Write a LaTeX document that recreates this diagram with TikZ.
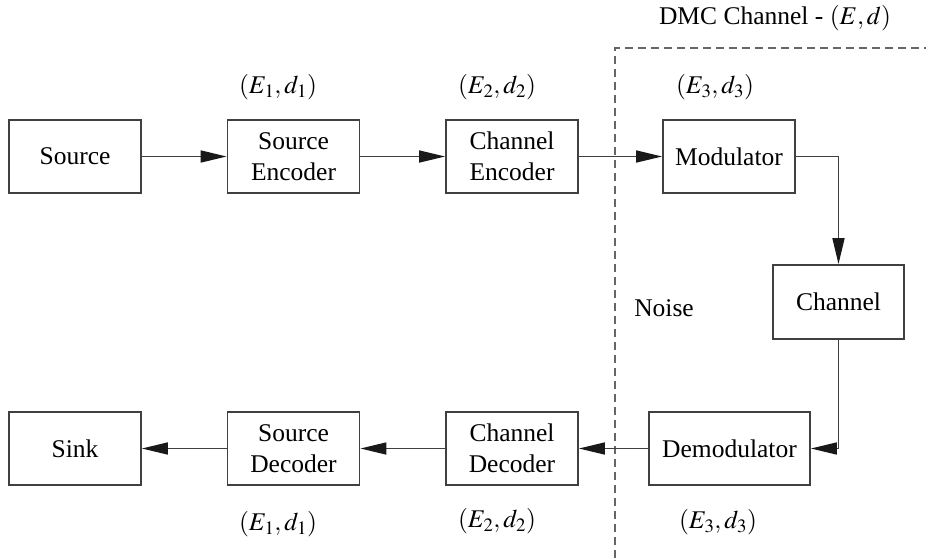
\documentclass[tikz,border=0pt]{standalone}
\usepackage{mathptmx}
\usepackage[no-math]{fontspec}
\setmainfont{Liberation Serif}
\newfontfamily\tmsfont{Liberation Serif}
\usetikzlibrary{arrows.meta}
\begin{document}
\begin{tikzpicture}[x=1pt,y=-1pt,
  blk/.style={draw=black!75, line width=1.8pt, minimum width=132pt, minimum height=73pt, align=center, inner sep=0pt},
  conn/.style={draw=black!75, line width=1.6pt, -{Triangle[length=26pt,width=12pt,color=black!90]}},
  lbl/.style={inner sep=0pt},
  every node/.style={font=\tmsfont\fontsize{25.5}{31}\selectfont}]
\useasboundingbox (0,0) rectangle (926,558);
\draw[black!60, line width=1.6pt, dash pattern=on 8pt off 5pt] (615,558) -- (615,48) -- (926,48);

\node[blk] (src) at (75,156.5) {Source};
\node[blk] (senc) at (293.5,156.5) {Source\\Encoder};
\node[blk] (cenc) at (512,156.5) {Channel\\Encoder};
\node[blk] (mod) at (729,156.5) {Modulator};
\node[blk, minimum width=131pt, minimum height=74pt] (chan) at (838.5,302) {Channel};
\node[blk, minimum width=161pt] (demod) at (729.5,448.5) {Demodulator};
\node[blk] (cdec) at (512,448.5) {Channel\\Decoder};
\node[blk] (sdec) at (293.5,448.5) {Source\\Decoder};
\node[blk] (sink) at (75,448.5) {Sink};

\node[lbl] (l1) at (278,87) {$(E_1,d_1)$};
\node[lbl] (l2) at (497,87) {$(E_2,d_2)$};
\node[lbl] (l3) at (715,87) {$(E_3,d_3)$};
\node[lbl] (l4) at (278,524) {$(E_1,d_1)$};
\node[lbl] (l5) at (497,521) {$(E_2,d_2)$};
\node[lbl] (l6) at (718,522) {$(E_3,d_3)$};
\node[lbl] (dmc) at (775,18) {DMC Channel - $(E,d)$};
\node[lbl] (noise) at (664,308) {Noise};

\path[conn] (src) -- (senc);
\path[conn] (senc) -- (cenc);
\path[conn] (cenc) -- (mod);
\path[conn] (mod.east) -| (chan.north);
\path[conn] (chan.south) |- (demod.east);
\path[conn] (demod) -- (cdec);
\path[conn] (cdec) -- (sdec);
\path[conn] (sdec) -- (sink);
\end{tikzpicture}
\end{document}
